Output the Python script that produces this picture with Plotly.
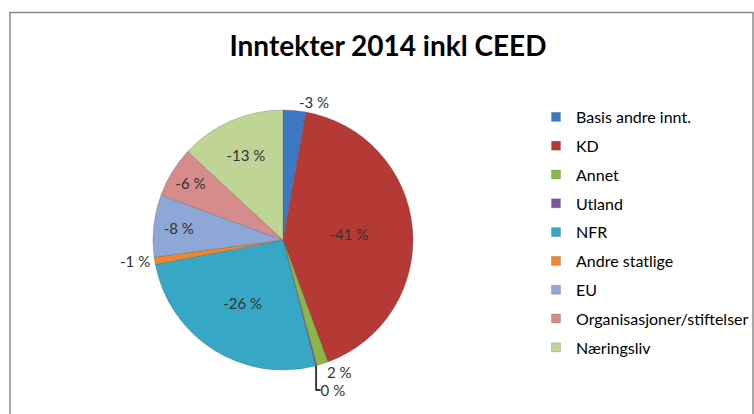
import plotly.graph_objects as go

categories = ["Basis andre innt.", "KD", "Annet", "Utland", "NFR",
              "Andre statlige", "EU", "Organisasjoner/stiftelser", "Næringsliv"]
shares = [2.8, 41.6, 1.4, 0.2, 26.0, 0.9, 7.7, 6.3, 13.1]
share_labels = ["-3 %", "-41 %", "2 %", "0 %", "-26 %", "-1 %", "-8 %", "-6 %", "-13 %"]
colors = ["#3C78C6", "#B53A36", "#8CB748", "#7A58A4", "#36A8C6",
          "#EE8530", "#8DA8D6", "#D58C8A", "#BFD596"]
label_pos = ["outside", "inside", "outside", "outside", "inside",
             "outside", "inside", "inside", "inside"]

W, H = 754, 414
FONT = "Lato, Calibri, sans-serif"

fig = go.Figure()

cx, cy, r = 283, 240, 130
fig.add_trace(go.Pie(
    labels=categories, values=shares, text=share_labels,
    textinfo="text", texttemplate="%{text}",
    textposition=label_pos,
    insidetextorientation="horizontal",
    sort=False, direction="clockwise", rotation=0,
    marker=dict(colors=colors, line=dict(color="rgba(80,80,80,0.35)", width=0.8)),
    textfont=dict(family=FONT, size=15, color="#333333"),
    outsidetextfont=dict(family=FONT, size=15, color="#333333"),
    insidetextfont=dict(family=FONT, size=15, color="#333333"),
    showlegend=False,
    domain=dict(x=[(cx - r) / W, (cx + r) / W], y=[1 - (cy + r) / H, 1 - (cy - r) / H]),
    hoverinfo="label+text",
))

# legend entries (one per category, own group for spacing)
for name, col in zip(categories, colors):
    fig.add_trace(go.Scatter(
        x=[None], y=[None], mode="markers", name=name,
        marker=dict(symbol="square", size=9, color=col,
                    line=dict(color="rgba(60,60,60,0.4)", width=0.5)),
        legendgroup=name, showlegend=True,
    ))

fig.update_layout(
    width=W, height=H,
    margin=dict(l=0, r=0, t=0, b=0),
    paper_bgcolor="white", plot_bgcolor="white",
    xaxis=dict(visible=False), yaxis=dict(visible=False),
    title=dict(text="<b>Inntekter 2014 inkl CEED</b>", x=388 / W, xanchor="center",
               y=1 - 46 / H, yanchor="middle",
               font=dict(family=FONT, size=28, color="#000000")),
    legend=dict(x=536 / W, y=1 - 100 / H, xanchor="left", yanchor="top",
                font=dict(family=FONT, size=16, color="#000000"),
                tracegroupgap=5, itemwidth=30, bgcolor="rgba(0,0,0,0)"),
    shapes=[dict(type="path", xref="paper", yref="paper",
                 path=f"M {10/W},-0.05 L {10/W},{1-12.5/H} L {753/W},{1-12.5/H} L {753/W},-0.05",
                 line=dict(color="#8a8a8a", width=1.5))],
)

fig.write_html("out.html")
